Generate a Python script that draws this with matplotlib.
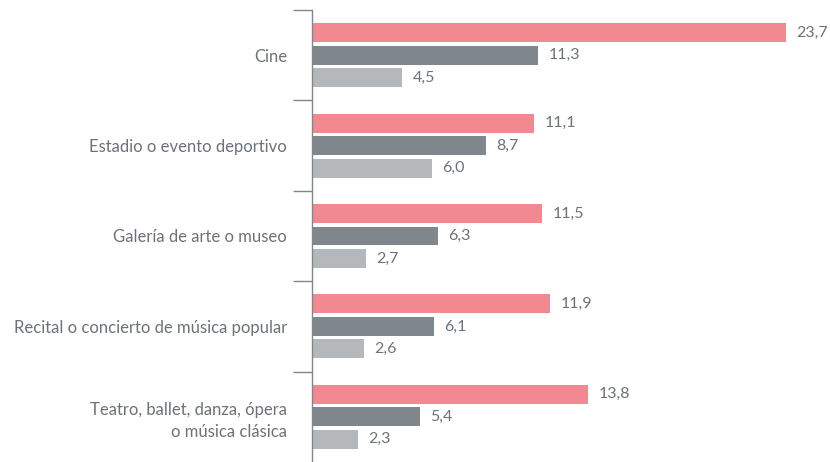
import numpy as np
import matplotlib
matplotlib.use("Agg")
import matplotlib.pyplot as plt

plt.rcParams['font.family'] = ['Lato', 'DejaVu Sans']

categorias = ["Cine", "Estadio o evento deportivo", "Galería de arte o museo",
              "Recital o concierto de música popular",
              "Teatro, ballet, danza, ópera\no música clásica"]
serie_1 = [23.7, 11.1, 11.5, 11.9, 13.8]
serie_2 = [11.3, 8.7, 6.3, 6.1, 5.4]
serie_3 = [4.5, 6.0, 2.7, 2.6, 2.3]

colores = ["#f28890", "#7f868c", "#b5b8bb"]
gris_texto = "#6d7278"

fig = plt.figure(figsize=(8.3, 4.62), dpi=100)
ax = fig.add_axes([312 / 830, 0, 1 - 312 / 830, 1 - 10 / 462])

y = np.arange(len(categorias))
paso = 0.249
alto = 0.21
for i, (serie, color) in enumerate(zip([serie_1, serie_2, serie_3], colores)):
    pos = y + (i - 1) * paso
    ax.barh(pos, serie, height=alto, color=color)
    for p, v in zip(pos, serie):
        ax.annotate(f"{v:.1f}".replace(".", ","), (v, p), xytext=(7.5, 0),
                    textcoords="offset points", va="center", ha="left",
                    fontsize=11.5, color=gris_texto)

ax.set_xlim(0, 25.9)
ax.set_ylim(len(categorias) - 0.5, -0.5)
ax.set_yticks(y)
ax.set_yticklabels(categorias, fontsize=12, color=gris_texto, linespacing=1.45)
ax.tick_params(axis="y", which="major", length=0, pad=18)
ax.set_yticks(np.arange(len(categorias)) - 0.5, minor=True)
ax.tick_params(axis="y", which="minor", length=14, width=1, color="#7f868c")
ax.set_xticks([])
for s in ["top", "right", "bottom"]:
    ax.spines[s].set_visible(False)
ax.spines["left"].set_color("#7f868c")
ax.spines["left"].set_linewidth(1)

fig.savefig("out.png", dpi=100)
